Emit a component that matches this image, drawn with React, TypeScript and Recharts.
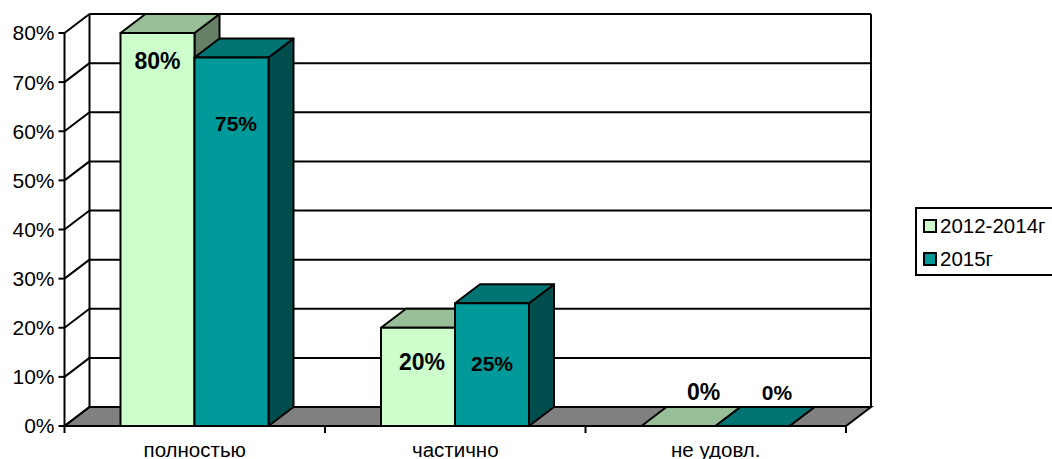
import { BarChart, Bar, XAxis, YAxis, CartesianGrid, Legend, LabelList } from 'recharts';

const categories = ['полностью', 'частично', 'не удовл.'];
const series2012 = [80, 20, 0];
const series2015 = [75, 25, 0];
const valueTicks = [0, 10, 20, 30, 40, 50, 60, 70, 80];

const chartData = categories.map((name, i) => ({
  name,
  s2012: series2012[i],
  s2015: series2015[i],
}));

// depth of the fake 3D box
const DX = 25;
const DY = 19;

const INK = '#000';
const FONT = '"Liberation Sans", Arial, sans-serif';

const faces: Record<string, { top: string; side: string }> = {
  '#CCFFCC': { top: '#99BF99', side: '#668066' },
  '#009999': { top: '#007373', side: '#004D4D' },
};

// hand placed labels, excel puts them in odd spots on 3D charts
const nudge2012 = [[0, 28], [4, 34], [25, -34]];
const nudge2015 = [[4.5, 66], [0, 60], [24.5, -34]];

const GridLine3D = (props: any) => {
  const { x1, x2, y1, y, height } = props;
  const isFloor = Math.abs(y1 - (y + height)) < 1;
  const isTop = Math.abs(y1 - y) < 1;
  const step = (x2 - x1) / categories.length;
  return (
    <g key={`grid-${y1}`}>
      {isFloor && (
        <>
          <polygon
            points={`${x1},${y1} ${x1 + DX},${y1 - DY} ${x2 + DX},${y1 - DY} ${x2},${y1}`}
            fill="#808080"
            stroke={INK}
            strokeWidth={2}
          />
          {categories.concat('').map((_, i) => (
            <line key={i} x1={x1 + step * i} x2={x1 + step * i} y1={y1} y2={y1 + 7} stroke={INK} strokeWidth={2} />
          ))}
        </>
      )}
      {isTop && (
        <>
          <line x1={x1 + DX} x2={x1 + DX} y1={y1 - DY} y2={y + height - DY} stroke={INK} strokeWidth={2} />
          <line x1={x2 + DX} x2={x2 + DX} y1={y1 - DY} y2={y + height - DY} stroke={INK} strokeWidth={2} />
        </>
      )}
      <line x1={x1} y1={y1} x2={x1 + DX} y2={y1 - DY} stroke={INK} strokeWidth={2} />
      <line x1={x1 + DX} y1={y1 - DY} x2={x2 + DX} y2={y1 - DY} stroke={INK} strokeWidth={2} />
    </g>
  );
};

const Box3D = (props: any) => {
  const { x, y, width, height, fill } = props;
  const f = faces[fill];
  return (
    <g stroke={INK} strokeWidth={2} strokeLinejoin="round">
      <polygon
        points={`${x + width},${y} ${x + width + DX},${y - DY} ${x + width + DX},${y + height - DY} ${x + width},${y + height}`}
        fill={f.side}
      />
      <polygon
        points={`${x},${y} ${x + DX},${y - DY} ${x + width + DX},${y - DY} ${x + width},${y}`}
        fill={f.top}
      />
      <rect x={x} y={y} width={width} height={height} fill={fill} />
    </g>
  );
};

const makeLabel = (nudges: number[][], size: number) => (props: any) => {
  const { x, y, width, value, index } = props;
  const [dx, dy] = nudges[index];
  return (
    <text
      x={x + width / 2 + dx}
      y={y + dy}
      textAnchor="middle"
      dominantBaseline="central"
      fontFamily={FONT}
      fontWeight="bold"
      fontSize={size}
      fill={INK}
    >
      {value}%
    </text>
  );
};

const LegendBox = ({ payload }: any) => (
  <div
    style={{
      boxSizing: 'border-box',
      width: 139,
      height: 69,
      border: '2px solid #000',
      background: '#fff',
      fontFamily: FONT,
      fontSize: 20.5,
      color: '#000',
      padding: '0 0 0 6px',
    }}
  >
    {(payload || []).map((p: any) => (
      <div key={p.value} style={{ display: 'flex', alignItems: 'center', height: 33 }}>
        <span
          style={{
            boxSizing: 'border-box',
            width: 14,
            height: 14,
            border: '2px solid #000',
            background: p.color,
            marginRight: 3,
          }}
        />
        {p.value}
      </div>
    ))}
  </div>
);

export default function App() {
  return (
    <div style={{ position: 'absolute', left: 0, top: 0, width: 1052, height: 459, overflow: 'hidden', background: '#fff' }}>
      <BarChart
        width={1052}
        height={459}
        data={chartData}
        margin={{ top: 33, right: 206, bottom: 0, left: 0 }}
        barGap={0}
        barCategoryGap={56}
      >
        <CartesianGrid vertical={false} horizontal={GridLine3D as any} />
        <XAxis
          dataKey="name"
          axisLine={false}
          tickLine={false}
          tickMargin={10}
          tick={{ fill: INK, fontSize: 20.5, fontFamily: FONT }}
          interval={0}
          height={33}
        />
        <YAxis
          width={64.5}
          domain={[0, 80]}
          ticks={valueTicks}
          interval={0}
          tickFormatter={(v) => `${v}%`}
          axisLine={{ stroke: INK, strokeWidth: 2 }}
          tickLine={{ stroke: INK, strokeWidth: 2 }}
          tickSize={6}
          tickMargin={4}
          tick={{ fill: INK, fontSize: 21, fontFamily: FONT }}
        />
        <Bar dataKey="s2012" name="2012-2014г" fill="#CCFFCC" shape={Box3D} isAnimationActive={false}>
          <LabelList dataKey="s2012" content={makeLabel(nudge2012, 23)} />
        </Bar>
        <Bar dataKey="s2015" name="2015г" fill="#009999" shape={Box3D} isAnimationActive={false}>
          <LabelList dataKey="s2015" content={makeLabel(nudge2015, 21)} />
        </Bar>
        <Legend
          layout="horizontal"
          verticalAlign="middle"
          content={<LegendBox />}
          wrapperStyle={{ left: 915, top: 207, width: 139, height: 69, bottom: 'auto', right: 'auto' }}
        />
      </BarChart>
    </div>
  );
}
